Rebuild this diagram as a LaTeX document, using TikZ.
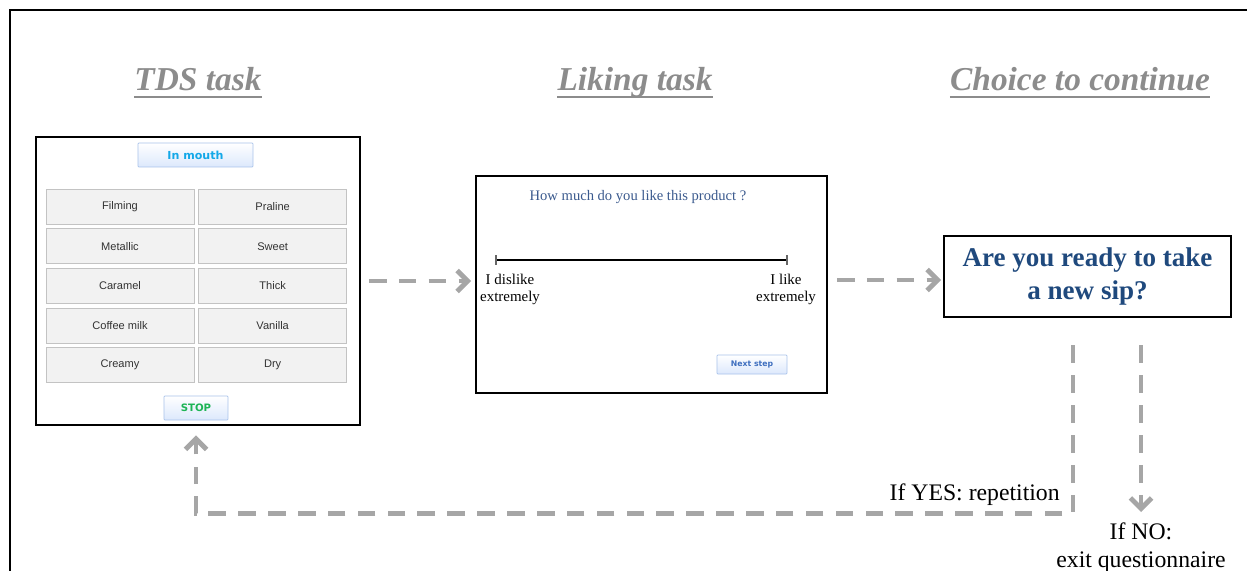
\documentclass[tikz,border=0pt]{standalone}
\usepackage{fontspec}
\setmainfont{Liberation Serif}
\setsansfont{Liberation Sans}
\newfontfamily\btnfont{DejaVu Sans}
\usetikzlibrary{arrows.meta}
\usetikzlibrary{calc,positioning}

\definecolor{headgray}{HTML}{8C8C8C}
\definecolor{flowgray}{HTML}{A6A6A6}
\definecolor{qblue}{HTML}{3B5A8E}
\definecolor{sipblue}{HTML}{1F497D}
\definecolor{cellfill}{HTML}{F2F2F2}
\definecolor{cellline}{HTML}{C3C3C3}
\definecolor{btnline}{HTML}{A9C3EB}
\definecolor{btnbottom}{HTML}{DCE8FC}
\definecolor{mouthcyan}{HTML}{13A8E8}
\definecolor{stopgreen}{HTML}{1DB455}
\definecolor{nextblue}{HTML}{3F6FBF}

\begin{document}
\begin{tikzpicture}[x=0.02cm, y=-0.02cm,
        heading/.style={anchor=base, text=headgray, inner sep=0pt, font=\fontsize{19}{23}\selectfont\bfseries\itshape},
        headline/.style={draw=headgray, line width=1.1pt},
        screen/.style={draw=black, line width=1.1pt, fill=white, inner sep=0pt},
        cell/.style={draw=cellline, fill=cellfill, minimum width=2.96cm, minimum height=0.7cm, inner sep=0pt,
        text=black!80, font=\sffamily\fontsize{6.3}{7}\selectfont},
        button/.style={draw=btnline, top color=white, bottom color=btnbottom, inner sep=0pt, rounded corners=0.5pt},
        flow/.style={draw=flowgray, line width=2.8pt, dash pattern=on 10pt off 7pt, -{Straight Barb[length=6pt,width=12pt]}},
        answer/.style={inner sep=0pt, font=\fontsize{13.5}{16}\selectfont}]
        \useasboundingbox (0,0) rectangle (1247,571);
        \draw[line width=1.1pt] (10,571) |- (1247,10);

        \node (tdshead) [heading] at (198,91) {TDS task};
        \node (likinghead) [heading] at (635,91) {Liking task};
        \node (choicehead) [heading] at (1080,91) {Choice to continue};
        \draw[headline] ($(tdshead.base west)+(0,6)$) -- ($(tdshead.base east)+(0,6)$);
        \draw[headline] ($(likinghead.base west)+(0,6)$) -- ($(likinghead.base east)+(0,6)$);
        \draw[headline] ($(choicehead.base west)+(0,6)$) -- ($(choicehead.base east)+(0,6)$);

        % TDS screen
        \node (tds) [screen, minimum width=6.48cm, minimum height=5.76cm] at (198,281) {};
        \node (inmouth) [button, text=mouthcyan, minimum width=2.3cm, minimum height=0.48cm,
        font=\btnfont\bfseries\fontsize{6.3}{7}\selectfont] at (195.5,155) {In mouth};
        \node (filming) [cell] at (120,206.5) {Filming};
        \node (praline) [cell, right=0.08cm of filming] {Praline};
        \node (metallic) [cell, below=0.08cm of filming] {Metallic};
        \node (sweet) [cell, right=0.08cm of metallic] {Sweet};
        \node (caramel) [cell, below=0.08cm of metallic] {Caramel};
        \node (thicktaste) [cell, right=0.08cm of caramel] {Thick};
        \node (coffee) [cell, below=0.08cm of caramel] {Coffee milk};
        \node (vanilla) [cell, right=0.08cm of coffee] {Vanilla};
        \node (creamy) [cell, below=0.08cm of coffee] {Creamy};
        \node (dry) [cell, right=0.08cm of creamy] {Dry};
        \node (stop) [button, text=stopgreen, minimum width=1.28cm, minimum height=0.48cm,
        font=\btnfont\bfseries\fontsize{5.8}{7}\selectfont] at (196,408) {STOP};

        % liking screen
        \node (liking) [screen, minimum width=7.02cm, minimum height=4.34cm] at (651.5,284.5) {};
        \node (question) [text=qblue, font=\fontsize{8.3}{10}\selectfont] at (638,197) {How much do you like this product ?};
        \coordinate (low) at (496,260);
        \coordinate (high) at (787,260);
        \draw[line width=1.7pt] (low) -- (high);
        \draw[black!60, line width=0.6pt] ($(low)+(0,-5)$) -- ($(low)+(0,5)$);
        \draw[black!60, line width=0.6pt] ($(high)+(0,-5)$) -- ($(high)+(0,5)$);
        \node (dislike) [align=center, inner sep=0pt, font=\fontsize{8.5}{9.6}\selectfont] at (510,289) {I dislike\\extremely};
        \node (like) [align=center, inner sep=0pt, font=\fontsize{8.5}{9.6}\selectfont] at (786,289) {I like\\extremely};
        \node (next) [button, text=nextblue, minimum width=1.4cm, minimum height=0.38cm,
        font=\btnfont\bfseries\fontsize{4.4}{5}\selectfont] at (752,364.5) {Next step};

        % choice screen
        \node (choice) [screen, minimum width=5.74cm, minimum height=1.62cm, align=center, text=sipblue,
        font=\bfseries\fontsize{15.4}{18.7}\selectfont] at (1087.5,276.5) {Are you ready to take\\a new sip?};

        \node (ifyes) [answer, anchor=base east] at (1060,500) {If YES: repetition};
        \node (ifno) [answer, align=center, anchor=north] at (1141,522) {If NO:\\exit questionnaire};

        \draw[flow, shorten <=0.16cm, shorten >=0.08cm] (tds.east) -- (tds.east -| liking.west);
        \draw[flow, shorten <=0.18cm, shorten >=0.04cm] ($(liking.east)+(0,-4.5)$) -- ($(liking.east -| choice.west)+(0,-4.5)$);
        \draw[flow, shorten <=0.55cm, shorten >=0.19cm] ($(choice.south)+(-14.5,0)$) |- ($(tds.south)+(-2,88)$) -- ($(tds.south)+(-2,0)$);
        \draw[flow, shorten <=0.55cm, shorten >=0.2cm] (choice.south -| ifno.north) -- (ifno.north);
    \end{tikzpicture}
\end{document}
